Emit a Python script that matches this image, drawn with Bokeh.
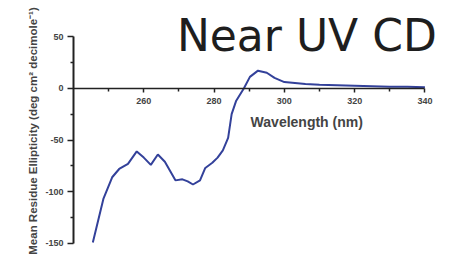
from bokeh.plotting import figure
from bokeh.models import Label, FixedTicker, Range1d
from bokeh.embed import file_html
from bokeh.resources import INLINE

# Near UV CD spectrum
wavelength = [245.5, 248.5, 251.0, 253.0, 255.5, 258.0, 260.0, 262.0, 264.0, 266.0,
              267.5, 269.0, 271.0, 272.5, 274.0, 276.0, 277.5, 279.5, 281.0, 282.5,
              284.0, 285.0, 286.3, 288.5, 290.2, 292.5, 295.0, 297.2, 300.0, 303.0,
              306.0, 310.0, 315.0, 320.0, 325.0, 330.0, 335.0, 340.0]
mre = [-149, -107, -86, -78, -73, -61, -67, -74, -64, -71,
       -80, -89, -88, -90, -93, -89, -77, -72, -67, -60,
       -48, -25, -12, 0, 11, 17, 15, 10, 6, 5,
       4, 3.5, 3, 2.5, 2, 1.5, 1.5, 1]

x_major = [260, 280, 300, 320, 340]
x_minor = [250, 270, 290, 310, 330]
x_tick_labels = ["260", "280", "300", "320", "340"]
y_major = [50, 0, -50, -100, -150]
y_minor = [25, -25, -75, -125]
y_tick_labels = ["50", "0", "-50", "-100", "-150"]

title_text = "Near UV CD"
x_label_text = "Wavelength (nm)"
y_label_text = "Mean Residue Ellipticity (deg cm\u00b2 decimole\u207b\u00b9)"

p = figure(width=445, height=261, output_backend="svg", toolbar_location=None,
           title=None, x_range=Range1d(240, 345), y_range=Range1d(-167.4, 84.8),
           min_border_left=73, min_border_right=3, min_border_top=0,
           min_border_bottom=0)
p.outline_line_color = None
p.xgrid.visible = False
p.ygrid.visible = False
p.background_fill_color = "white"
p.border_fill_color = "white"

p.line(wavelength, mre, line_color="#33419a", line_width=2)

# x axis at y = 0
p.xaxis.fixed_location = 0
p.xaxis.bounds = (240, 340)
p.xaxis.ticker = FixedTicker(ticks=x_major, minor_ticks=x_minor)
p.xaxis.major_label_overrides = dict(zip(x_major, x_tick_labels))
p.xaxis.axis_line_color = "#222222"
p.xaxis.axis_line_width = 1.5
p.xaxis.major_tick_line_color = "#222222"
p.xaxis.minor_tick_line_color = "#222222"
p.xaxis.major_tick_line_width = 1.5
p.xaxis.minor_tick_line_width = 1.5
p.xaxis.major_tick_in = 0
p.xaxis.major_tick_out = 4
p.xaxis.minor_tick_in = 0
p.xaxis.minor_tick_out = 3
p.xaxis.major_label_standoff = 6
p.xaxis.major_label_text_font = "Liberation Sans"
p.xaxis.major_label_text_font_style = "bold"
p.xaxis.major_label_text_font_size = "9px"
p.xaxis.major_label_text_color = "#444444"

p.yaxis.bounds = (-150, 50)
p.yaxis.ticker = FixedTicker(ticks=y_major, minor_ticks=y_minor)
p.yaxis.major_label_overrides = dict(zip(y_major, y_tick_labels))
p.yaxis.axis_line_color = "#222222"
p.yaxis.axis_line_width = 2
p.yaxis.major_tick_line_color = "#222222"
p.yaxis.minor_tick_line_color = "#222222"
p.yaxis.major_tick_line_width = 1.5
p.yaxis.minor_tick_line_width = 1.5
p.yaxis.major_tick_in = 0
p.yaxis.major_tick_out = 6
p.yaxis.minor_tick_in = 0
p.yaxis.minor_tick_out = 3
p.yaxis.major_label_standoff = 4
p.yaxis.major_label_text_font = "Liberation Sans"
p.yaxis.major_label_text_font_style = "bold"
p.yaxis.major_label_text_font_size = "9px"
p.yaxis.major_label_text_color = "#444444"
p.yaxis.axis_label = y_label_text
p.yaxis.axis_label_text_font = "Liberation Sans"
p.yaxis.axis_label_text_font_style = "bold"
p.yaxis.axis_label_text_font_size = "11.5px"
p.yaxis.axis_label_text_color = "#444444"
p.yaxis.axis_label_standoff = 3

p.add_layout(Label(x=306.4, y=51.0, text=title_text, text_font="DejaVu Sans",
                   text_font_size="44px", text_align="center",
                   text_baseline="alphabetic", text_color="#1e1e1e"))
p.add_layout(Label(x=290.4, y=-32.9, text=x_label_text, text_font="Liberation Sans",
                   text_font_style="bold", text_font_size="14px",
                   text_align="left", text_baseline="middle", text_color="#444444"))

open("out.html", "w").write(file_html(p, INLINE))
